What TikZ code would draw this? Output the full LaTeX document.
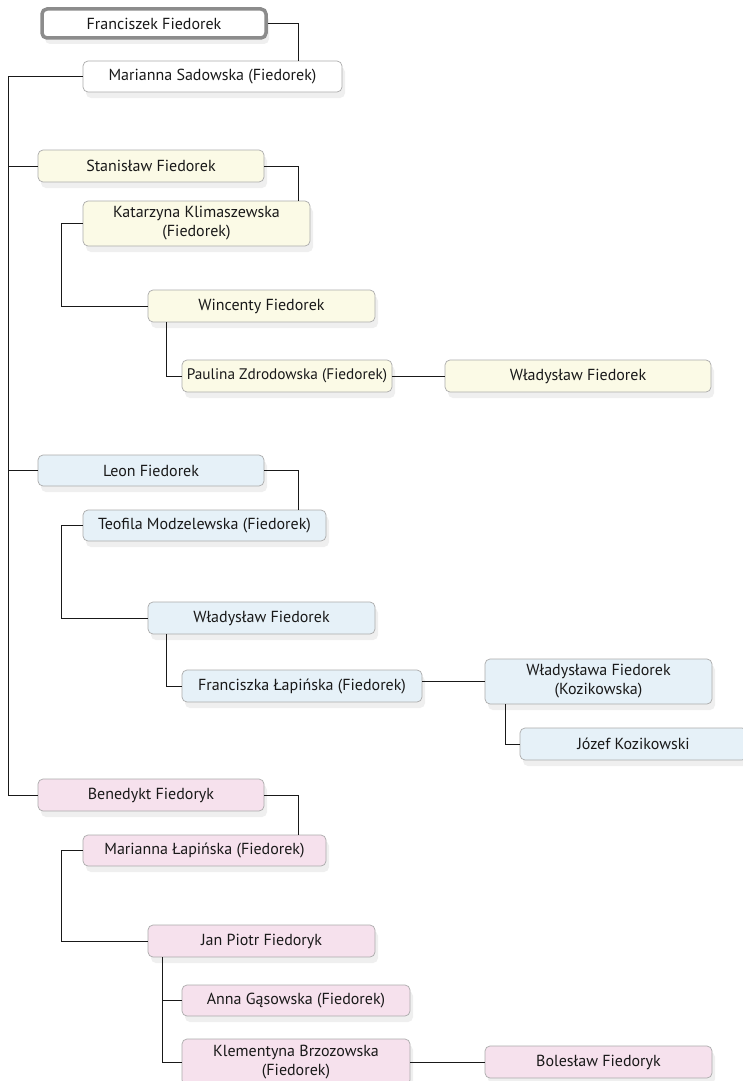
\documentclass[tikz,border=0pt]{standalone}
\usepackage{fontspec}
\setmainfont{PT Sans}
\usetikzlibrary{shadows}
\definecolor{cyel}{HTML}{FBFAE6}
\definecolor{cblu}{HTML}{E6F1F8}
\definecolor{cpnk}{HTML}{F6E1ED}
\definecolor{cbrd}{HTML}{ABABAB}
\tikzset{
  person/.style={draw=cbrd, line width=0.7pt, rounded corners=5pt, align=center,
    font=\fontsize{16}{19}\selectfont, text=black!90, inner xsep=0pt, inner ysep=1pt,
    drop shadow={opacity=0.13, shadow xshift=3pt, shadow yshift=-6pt}},
  root/.style={person, draw=black!45, line width=3.5pt, fill=white},
  pw/.style={person, fill=white},
  py/.style={person, fill=cyel},
  pb/.style={person, fill=cblu},
  pp/.style={person, fill=cpnk},
  link/.style={draw=black!90, line width=0.9pt}
}
\begin{document}
\begin{tikzpicture}[x=1pt,y=-1pt]
\useasboundingbox (0,0) rectangle (743,1081);
% helper coordinates for elbow x positions
\coordinate (xt) at (8,0);
\coordinate (xa) at (298,0);
\coordinate (xb) at (61,0);
\coordinate (xc) at (166,0);
\coordinate (xd) at (505,0);
\coordinate (xe) at (162,0);

\node[root, minimum width=224, minimum height=29] (F) at (154,23.5) {Franciszek Fiedorek};
\node[pw, minimum width=259, minimum height=31] (MS) at (212.5,76.5) {Marianna Sadowska (Fiedorek)};

\node[py, minimum width=226, minimum height=32] (SF) at (151,166) {Stanisław Fiedorek};
\node[py, minimum width=227, minimum height=45] (KK) at (196.5,223.5) {Katarzyna Klimaszewska\\(Fiedorek)};
\node[py, minimum width=227, minimum height=32] (WF) at (261.5,306) {Wincenty Fiedorek};
\node[py, minimum width=210, minimum height=32, font=\fontsize{15.3}{19}\selectfont] (PZ) at (287,376) {Paulina Zdrodowska (Fiedorek)};
\node[py, minimum width=266, minimum height=32] (WL1) at (578,376) {Władysław Fiedorek};

\node[pb, minimum width=226, minimum height=31] (LF) at (151,470.5) {Leon Fiedorek};
\node[pb, minimum width=243, minimum height=31] (TM) at (204.5,525.5) {Teofila Modzelewska (Fiedorek)};
\node[pb, minimum width=227, minimum height=32] (WL2) at (261.5,618) {Władysław Fiedorek};
\node[pb, minimum width=240, minimum height=32] (FL) at (302,686) {Franciszka Łapińska (Fiedorek)};
\node[pb, minimum width=227, minimum height=45] (WK) at (598.5,681.5) {Władysława Fiedorek\\(Kozikowska)};
\node[pb, minimum width=227, minimum height=32] (JK) at (633.5,744) {Józef Kozikowski};

\node[pp, minimum width=226, minimum height=32] (BF) at (151,795) {Benedykt Fiedoryk};
\node[pp, minimum width=243, minimum height=31] (ML) at (204.5,850.5) {Marianna Łapińska (Fiedorek)};
\node[pp, minimum width=227, minimum height=32] (JP) at (261.5,941) {Jan Piotr Fiedoryk};
\node[pp, minimum width=228, minimum height=31] (AG) at (296,1000.5) {Anna Gąsowska (Fiedorek)};
\node[pp, minimum width=228, minimum height=46] (KB) at (296,1062) {Klementyna Brzozowska\\(Fiedorek)};
\node[pp, minimum width=227, minimum height=32] (BO) at (598.5,1062) {Bolesław Fiedoryk};

% connectors
\draw[link] (F.east) -| (xa |- MS.north);
\draw[link] (MS.west) -| (xt |- BF.west) -- (BF.west);
\draw[link] (xt |- SF.west) -- (SF.west);
\draw[link] (xt |- LF.west) -- (LF.west);

\draw[link] (SF.east) -| (xa |- KK.north);
\draw[link] (KK.west) -| (xb |- WF.west) -- (WF.west);
\draw[link] (xc |- WF.south) |- (PZ.west);
\draw[link] (PZ.east) -- (WL1.west);

\draw[link] (LF.east) -| (xa |- TM.north);
\draw[link] (TM.west) -| (xb |- WL2.west) -- (WL2.west);
\draw[link] (xc |- WL2.south) |- (FL.west);
\draw[link] (FL.east |- WK.west) -- (WK.west);
\draw[link] (xd |- WK.south) |- (JK.west);

\draw[link] (BF.east) -| (xa |- ML.north);
\draw[link] (ML.west) -| (xb |- JP.west) -- (JP.west);
\draw[link] (xe |- JP.south) |- (KB.west);
\draw[link] (xe |- AG.west) -- (AG.west);
\draw[link] (KB.east) -- (BO.west);
\end{tikzpicture}
\end{document}
